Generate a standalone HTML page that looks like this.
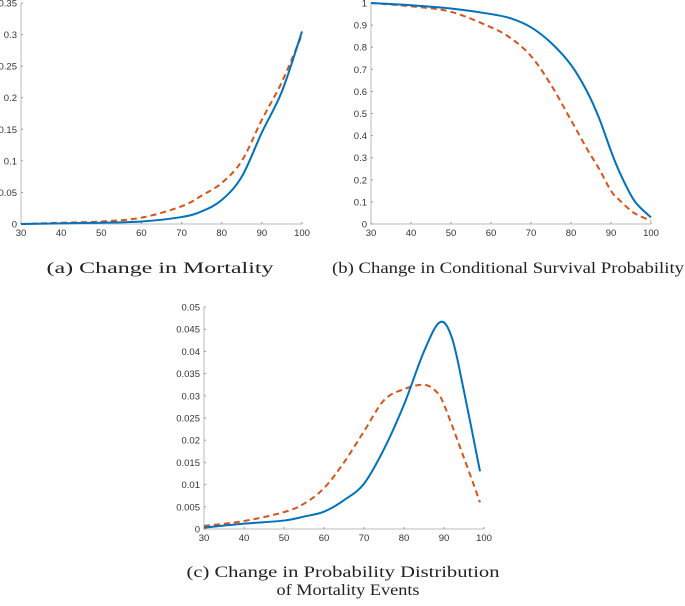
<!DOCTYPE html>
<html><head><meta charset="utf-8">
<style>
body{margin:0;background:#fff;width:685px;height:601px;overflow:hidden}
svg text{font-family:"Liberation Sans",sans-serif}
.cap{font-family:"Liberation Serif",serif;font-size:16px;fill:#222}
</style></head><body>
<svg id="s" width="685" height="601"></svg>
<script>
const xA=[30,40,50,60,70,75,80,85,90,95,100];
const aBlue=[0,0.001,0.002,0.004,0.011,0.02,0.038,0.075,0.145,0.21,0.305];
const aRed=[0,0.002,0.004,0.01,0.028,0.045,0.065,0.1,0.165,0.225,0.3];
const xB=[30,40,50,60,65,70,75,80,84,87,90,92,95,97,100];
const bBlue=[1,0.99,0.975,0.95,0.93,0.89,0.82,0.72,0.6,0.48,0.33,0.24,0.13,0.08,0.03];
const bRed=[1,0.985,0.96,0.89,0.84,0.76,0.63,0.47,0.34,0.25,0.15,0.11,0.06,0.038,0.015];
const xCb=[30,40,50,55,60,65,70,75,80,85,89,92,95,99];
const cBlue=[0.0003,0.0012,0.0019,0.0028,0.0039,0.0065,0.0102,0.018,0.028,0.04,0.0466,0.043,0.031,0.013];
const xCr=[30,40,50,55,60,65,70,75,80,85,88,90,95,99];
const cRed=[0.0007,0.0018,0.0038,0.0057,0.0092,0.015,0.022,0.029,0.0315,0.0325,0.031,0.028,0.016,0.006];
const xTicks=[30,40,50,60,70,80,90,100];
const aTicks=[0,0.05,0.1,0.15,0.2,0.25,0.3,0.35];
const aLabels=["0","0.05","0.1","0.15","0.2","0.25","0.3","0.35"];
const bTicks=[0,0.1,0.2,0.3,0.4,0.5,0.6,0.7,0.8,0.9,1];
const bLabels=["0","0.1","0.2","0.3","0.4","0.5","0.6","0.7","0.8","0.9","1"];
const cTicks=[0,0.005,0.01,0.015,0.02,0.025,0.03,0.035,0.04,0.045,0.05];
const cLabels=["0","0.005","0.01","0.015","0.02","0.025","0.03","0.035","0.04","0.045","0.05"];

const svg=document.getElementById('s');const NS='http://www.w3.org/2000/svg';
function el(t,a,p){const e=document.createElementNS(NS,t);for(const k in a)e.setAttribute(k,a[k]);(p||svg).appendChild(e);return e;}
function smooth(pts){let d='M'+pts[0][0]+','+pts[0][1];for(let i=0;i<pts.length-1;i++){const p0=pts[Math.max(0,i-1)],p1=pts[i],p2=pts[i+1],p3=pts[Math.min(pts.length-1,i+2)];
d+=' C'+(p1[0]+(p2[0]-p0[0])/6)+','+(p1[1]+(p2[1]-p0[1])/6)+' '+(p2[0]-(p3[0]-p1[0])/6)+','+(p2[1]-(p3[1]-p1[1])/6)+' '+p2[0]+','+p2[1];}return d;}
function panel(name,x0,x1,y0,y1,ymax,yt,yl,series){
  const g=el('g',{});
  
  
  const sx=v=>x0+(v-30)/70*(x1-x0), sy=v=>y0-(v/ymax)*(y0-y1);
  const ax=el('path',{d:`M${x0},${y1}V${y0}H${x1}`,fill:'none',stroke:'#bbb','stroke-width':1},g);
  
  
  xTicks.forEach(t=>{el('line',{x1:sx(t),x2:sx(t),y1:y0,y2:y0-2,stroke:'#999'},g);
    const tx=el('text',{x:sx(t),y:y0+12,'font-size':9.5,'text-anchor':'middle',fill:'#333'},g);tx.textContent=t;
    
    });
  yt.forEach((t,i)=>{el('line',{x1:x0,x2:x0+2,y1:sy(t),y2:sy(t),stroke:'#999'},g);
    const tx=el('text',{x:x0-4,y:sy(t)+3.5,'font-size':9.5,'text-anchor':'end',fill:'#333'},g);tx.textContent=yl[i];
    
    });
  series.forEach(s=>{const pts=s.x.map((v,i)=>[sx(v),sy(s.y[i])]);
    const p=el('path',{d:smooth(pts),fill:'none',stroke:s.c,'stroke-width':2,'stroke-dasharray':s.dash||''},g);
    
    });
}
panel('panel-a-mortality',21,302,224,3,0.35,aTicks,aLabels,[{x:xA,y:aRed,c:'#d95319',dash:'6,4',n:'line-red-dashed'},{x:xA,y:aBlue,c:'#0072bd',n:'line-blue'}]);
panel('panel-b-survival',371,651,224,3,1,bTicks,bLabels,[{x:xB,y:bRed,c:'#d95319',dash:'6,4',n:'line-red-dashed'},{x:xB,y:bBlue,c:'#0072bd',n:'line-blue'}]);
panel('panel-c-distribution',204,484,529,307,0.05,cTicks,cLabels,[{x:xCr,y:cRed,c:'#d95319',dash:'6,4',n:'line-red-dashed'},{x:xCb,y:cBlue,c:'#0072bd',n:'line-blue'}]);
const caps=[[160,273,'(a) Change in Mortality','caption-a',227],[508,273,'(b) Change in Conditional Survival Probability','caption-b',352],[343,577,'(c) Change in Probability Distribution','caption-c-line1',313],[348,595,'of Mortality Events','caption-c-line2',143]];
caps.forEach(c=>{const t=el('text',{x:c[0],y:c[1],'text-anchor':'middle',class:'cap',textLength:c[4],lengthAdjust:'spacingAndGlyphs'});t.textContent=c[2];
  
  });
</script>
</body></html>
